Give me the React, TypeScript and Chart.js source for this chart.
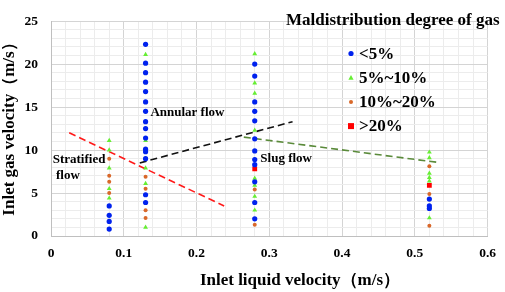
import React, { useEffect, useRef } from "react";
import { Chart, registerables } from "chart.js";

Chart.register(...registerables);

// Data (x = inlet liquid velocity, y = inlet gas velocity)
const lt5: [number, number][] = [
  [0.08, 3.5], [0.08, 2.4], [0.08, 1.7], [0.08, 0.8],
  [0.13, 22.3], [0.13, 20.1], [0.13, 19.0], [0.13, 17.9], [0.13, 16.8], [0.13, 15.6],
  [0.13, 14.5], [0.13, 13.3], [0.13, 12.5], [0.13, 11.4], [0.13, 10.1], [0.13, 9.8],
  [0.13, 9.0], [0.13, 4.8], [0.13, 3.9],
  [0.28, 20.0], [0.28, 18.6], [0.28, 15.6], [0.28, 14.5], [0.28, 13.4], [0.28, 11.3],
  [0.28, 9.9], [0.28, 8.9], [0.28, 8.3], [0.28, 6.3], [0.28, 3.9], [0.28, 2.0],
  [0.52, 4.3], [0.52, 3.5], [0.52, 3.2],
];
const p5to10: [number, number][] = [
  [0.08, 11.1], [0.08, 10.0], [0.08, 7.9], [0.08, 5.5], [0.08, 4.4],
  [0.13, 21.1], [0.13, 11.1], [0.13, 7.9], [0.13, 6.1], [0.13, 1.0],
  [0.28, 21.2], [0.28, 17.8], [0.28, 16.6], [0.28, 12.3], [0.28, 6.7], [0.28, 5.9],
  [0.28, 4.6], [0.28, 3.0],
  [0.52, 9.75], [0.52, 9.1], [0.52, 7.3], [0.52, 6.8], [0.52, 6.4], [0.52, 2.1],
];
const p10to20: [number, number][] = [
  [0.08, 9.0], [0.08, 7.0], [0.08, 6.3], [0.08, 5.0],
  [0.13, 6.9], [0.13, 5.5], [0.13, 3.0], [0.13, 2.1],
  [0.28, 5.4], [0.28, 1.3],
  [0.52, 8.1], [0.52, 4.9], [0.52, 1.2],
];
const gt20: [number, number][] = [
  [0.28, 7.8], [0.52, 5.9],
];

// Flow-regime boundary lines
const stratifiedBoundary: [number, number][] = [[0.025, 12.0], [0.238, 3.5]];
const annularBoundary: [number, number][] = [[0.122, 8.5], [0.332, 13.3]];
const slugBoundary: [number, number][] = [[0.265, 11.5], [0.533, 8.55]];

const seriesLabels = ["<5%", "5%~10%", "10%~20%", ">20%"];
const legendTitle = "Maldistribution degree of gas";
const xTitle = "Inlet liquid velocity（m/s）";
const yTitle = "Inlet gas velocity（m/s）";

const regionLabels: { text: string; x: number; y: number }[] = [
  { text: "Annular flow", x: 0.1366, y: 14.4 },
  { text: "Stratified", x: 0.0023, y: 8.9 },
  { text: "flow", x: 0.0068, y: 7.0 },
  { text: "Slug flow", x: 0.2877, y: 9.0 },
];

const FONT = "'Liberation Serif', 'Times New Roman', serif";
const toPts = (a: [number, number][]) => a.map(([x, y]) => ({ x, y }));
const isMult = (v: number, step: number) => Math.abs(v / step - Math.round(v / step)) < 1e-6;

export default function App() {
  const ref = useRef<HTMLCanvasElement | null>(null);

  useEffect(() => {
    document.body.style.margin = "0";
    if (!ref.current) return;

    const textPlugin = {
      id: "annot",
      afterDatasetsDraw(chart: any) {
        const { ctx, scales } = chart;
        const xs = scales.x, ys = scales.y;
        ctx.save();
        ctx.fillStyle = "#000";
        ctx.textBaseline = "middle";
        ctx.textAlign = "left";
        ctx.font = `bold 13px ${FONT}`;
        regionLabels.forEach((r) => {
          ctx.fillText(r.text, xs.getPixelForValue(r.x), ys.getPixelForValue(r.y));
        });
        // legend
        ctx.font = `bold 17px ${FONT}`;
        ctx.fillText(legendTitle, 286, 21);
        const scatterSets = chart.data.datasets.slice(0, 4);
        scatterSets.forEach((ds: any, i: number) => {
          const cy = 53.5 + i * 24.2;
          const cx = 351;
          ctx.fillStyle = ds.backgroundColor;
          if (ds.pointStyle === "triangle") {
            const r = 2.6;
            ctx.beginPath();
            ctx.moveTo(cx, cy - r);
            ctx.lineTo(cx + r, cy + r * 0.8);
            ctx.lineTo(cx - r, cy + r * 0.8);
            ctx.closePath();
            ctx.fill();
          } else if (ds.pointStyle === "rect") {
            ctx.fillRect(cx - 3, cy - 3, 6, 6);
          } else {
            ctx.beginPath();
            ctx.arc(cx, cy, ds.pointRadius, 0, Math.PI * 2);
            ctx.fill();
          }
          ctx.fillStyle = "#000";
          ctx.fillText(seriesLabels[i], 359, cy + 1);
        });
        // axis titles
        ctx.font = `bold 17px ${FONT}`;
        ctx.textAlign = "center";
        ctx.fillText(xTitle, 300, 281);
        ctx.translate(10, 125);
        ctx.rotate(-Math.PI / 2);
        ctx.fillText(yTitle, 0, 0);
        ctx.restore();
      },
    };

    const chart = new Chart(ref.current, {
      type: "scatter",
      data: {
        datasets: [
          { label: seriesLabels[0], data: toPts(lt5), backgroundColor: "#0022ee", borderWidth: 0, pointStyle: "circle", pointRadius: 2.6 } as any,
          { label: seriesLabels[1], data: toPts(p5to10), backgroundColor: "#66ee33", borderWidth: 0, pointStyle: "triangle", pointRadius: 2.8 } as any,
          { label: seriesLabels[2], data: toPts(p10to20), backgroundColor: "#d9682a", borderWidth: 0, pointStyle: "circle", pointRadius: 2.0 } as any,
          { label: seriesLabels[3], data: toPts(gt20), backgroundColor: "#ff0000", borderWidth: 0, pointStyle: "rect", pointRadius: 3.4 } as any,
          { label: "b1", data: toPts(stratifiedBoundary), showLine: true, borderColor: "#ff1a1a", borderWidth: 1.6, borderDash: [7, 4], pointRadius: 0 } as any,
          { label: "b2", data: toPts(annularBoundary), showLine: true, borderColor: "#111111", borderWidth: 1.6, borderDash: [7, 4], pointRadius: 0 } as any,
          { label: "b3", data: toPts(slugBoundary), showLine: true, borderColor: "#5a8a3a", borderWidth: 1.6, borderDash: [7, 4], pointRadius: 0 } as any,
        ],
      },
      options: {
        animation: false,
        responsive: true,
        maintainAspectRatio: false,
        layout: { padding: { top: 7, right: 15, left: 0, bottom: 0 } },
        plugins: { legend: { display: false }, tooltip: { enabled: false } },
        scales: {
          x: {
            type: "linear",
            min: 0,
            max: 0.6,
            afterFit: (s: any) => { s.height = 56; },
            afterBuildTicks: (s: any) => {
              const t = [];
              for (let i = 0; i <= 30; i++) t.push({ value: i * 0.02 });
              s.ticks = t;
            },
            ticks: {
              autoSkip: false,
              maxRotation: 0,
              padding: 9,
              color: "#000",
              font: { family: FONT, size: 13.5, weight: "bold" },
              callback: (v: any) => (isMult(v, 0.1) ? String(Math.round(v * 10) / 10) : ""),
            },
            grid: {
              drawTicks: false,
              color: (c: any) => (isMult(c.tick.value, 0.1) ? "#d4d4d4" : "#ececec"),
            },
            border: { color: "#bfbfbf", width: 1 },
            title: { display: false },
          },
          y: {
            type: "linear",
            min: 0,
            max: 25,
            afterFit: (s: any) => { s.width = 51; },
            afterBuildTicks: (s: any) => {
              const t = [];
              for (let i = 0; i <= 25; i++) t.push({ value: i });
              s.ticks = t;
            },
            ticks: {
              autoSkip: false,
              padding: 13,
              color: "#000",
              font: { family: FONT, size: 13.5, weight: "bold" },
              callback: (v: any) => (isMult(v, 5) ? String(v) : ""),
            },
            grid: {
              drawTicks: false,
              color: (c: any) => (isMult(c.tick.value, 5) ? "#d4d4d4" : "#ececec"),
            },
            border: { color: "#bfbfbf", width: 1 },
            title: { display: false },
          },
        },
      },
      plugins: [textPlugin],
    });
    return () => chart.destroy();
  }, []);

  return (
    <div style={{ width: 505, height: 292, position: "relative" }}>
      <canvas ref={ref} />
    </div>
  );
}
